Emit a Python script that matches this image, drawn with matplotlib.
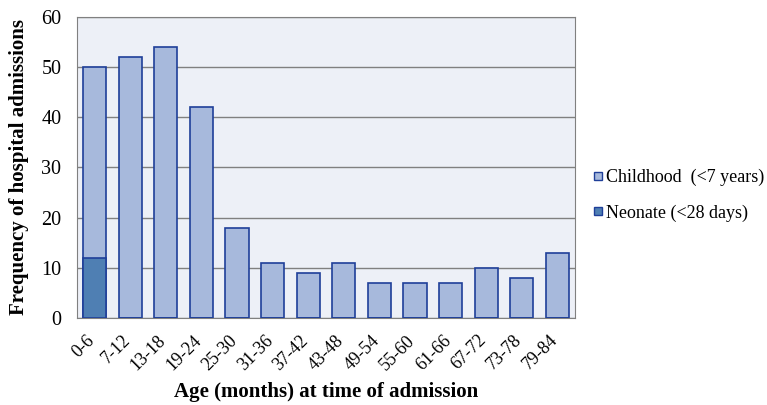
import matplotlib.pyplot as plt
import matplotlib.transforms as mtransforms
from matplotlib.lines import Line2D

plt.rcParams['font.family'] = ['Liberation Serif', 'DejaVu Serif']

age_groups = ['0-6', '7-12', '13-18', '19-24', '25-30', '31-36', '37-42',
              '43-48', '49-54', '55-60', '61-66', '67-72', '73-78', '79-84']
childhood = [50, 52, 54, 42, 18, 11, 9, 11, 7, 7, 7, 10, 8, 13]
neonate = [12, 0, 0, 0, 0, 0, 0, 0, 0, 0, 0, 0, 0, 0]

fig = plt.figure(figsize=(7.67, 4.05), dpi=100)
ax = fig.add_axes([0.100, 0.215, 0.650, 0.743])
ax.set_facecolor('#edf0f7')

x = range(len(age_groups))
ax.bar(x, childhood, width=0.65, color='#a7b9dc', edgecolor='#1f3f99', linewidth=1.2, zorder=3)
ax.bar(x, neonate, width=0.65, color='#4f7fb3', edgecolor='#1f3f99', linewidth=1.2, zorder=4)

ax.set_ylim(0, 60)
ax.set_xlim(-0.5, len(age_groups) - 0.5)
ax.set_yticks(range(0, 61, 10))
ax.yaxis.grid(True, color='#808080', linewidth=1.0, zorder=0)
ax.tick_params(axis='both', length=0)
ax.tick_params(axis='y', pad=11, labelsize=14.5)
ax.tick_params(axis='x', pad=10, labelsize=13)
ax.set_xticks(list(x))
ax.set_xticklabels(age_groups, rotation=45, ha='right', rotation_mode='anchor')
shift = mtransforms.ScaledTranslation(-6 / 72, 0, fig.dpi_scale_trans)
for lab in ax.get_xticklabels():
    lab.set_transform(lab.get_transform() + shift)
for s in ax.spines.values():
    s.set_color('#808080')

ax.set_ylabel('Frequency of hospital admissions', fontsize=15, fontweight='bold', labelpad=9)
ax.set_xlabel('Age (months) at time of admission', fontsize=15, fontweight='bold', labelpad=6)

handles = [
    Line2D([], [], marker='s', linestyle='none', markersize=6, markerfacecolor='#a7b9dc', markeredgecolor='#1f3f99'),
    Line2D([], [], marker='s', linestyle='none', markersize=6, markerfacecolor='#4f7fb3', markeredgecolor='#1f3f99'),
]
fig.legend(handles, ['Childhood  (<7 years)', 'Neonate (<28 days)'], loc='center left',
           bbox_to_anchor=(0.774, 0.518), frameon=False, fontsize=13,
           handlelength=0.5, handletextpad=0.2, labelspacing=1.0, borderpad=0, borderaxespad=0)

fig.savefig('out.png', dpi=100)
